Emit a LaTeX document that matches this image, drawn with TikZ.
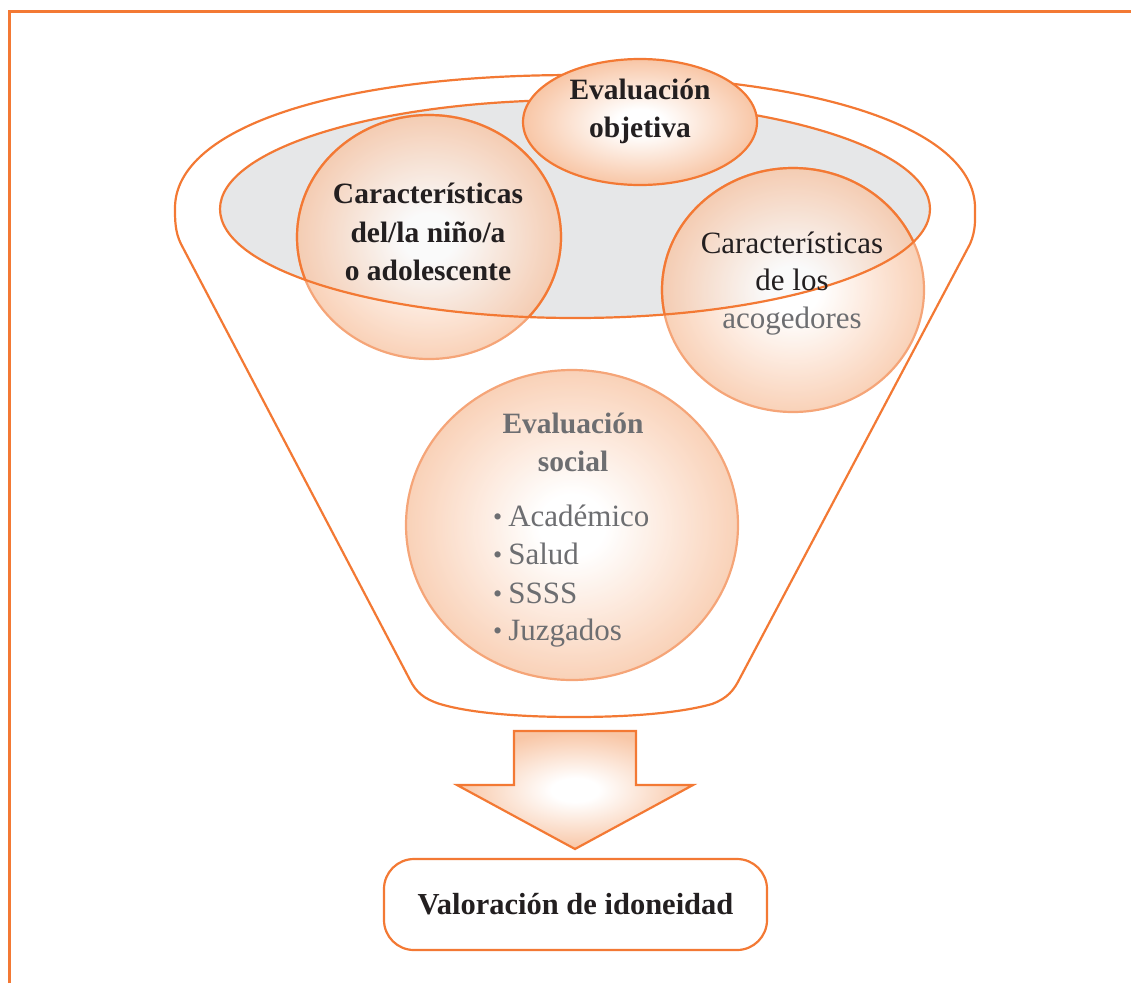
\documentclass[tikz,border=0pt]{standalone}
\usepackage{fontspec}
\setmainfont{Liberation Serif}
\definecolor{orng}{RGB}{243,121,52}
\definecolor{lorng}{RGB}{245,165,120}
\definecolor{grayfill}{RGB}{230,231,232}
\definecolor{peach}{RGB}{248,198,166}
\definecolor{darktxt}{RGB}{35,31,32}
\definecolor{graytxt}{RGB}{109,110,113}
\pgfdeclareradialshading{peachglow}{\pgfpoint{0bp}{0bp}}{color(0bp)=(white); color(5bp)=(white); color(25bp)=(peach); color(50bp)=(peach)}
\newcommand{\smallbul}{\raisebox{1pt}{\fontsize{26}{26}\selectfont\textbullet}\hspace{6pt}}
\begin{document}
\begin{tikzpicture}[x=1pt,y=-1pt,
  outline/.style={draw=orng, line width=2.2pt},
  bubble/.style={shading=peachglow, fill opacity=0.8, draw=lorng, line width=2.2pt},
  solidbubble/.style={shading=peachglow, draw=orng, line width=2.2pt},
  tb/.style={font=\fontsize{29.5}{38}\selectfont\bfseries, text=darktxt, inner sep=0pt},
  tr/.style={font=\fontsize{31}{38}\selectfont, text=darktxt, inner sep=0pt},
  resultbox/.style={draw=orng, line width=2.2pt, rounded corners=30pt, fill=white,
    minimum width=383pt, minimum height=91pt, text height=20pt, text depth=0pt,
    font=\fontsize{30.5}{38}\selectfont\bfseries, text=darktxt}
]
\useasboundingbox (0,0) rectangle (1131,983);

% frame
\draw[orng, line width=3pt] (9.5,983) -- (9.5,11.5) -- (1131,11.5);

% funnel
\draw[outline, line join=round] (175,208)
  .. controls (175,128) and (335,75) .. (575,75)
  .. controls (815,75) and (975,128) .. (975,208)
  .. controls (975,220) and (976,230) .. (970,244)
  -- (740,678)
  .. controls (734,690) and (728,698) .. (712,704)
  .. controls (680,713) and (630,717) .. (575,717)
  .. controls (520,717) and (470,713) .. (440,704)
  .. controls (424,699) and (416,692) .. (410,680)
  -- (181,244)
  .. controls (175,232) and (175,220) .. (175,208) -- cycle;

% gray ellipse
\fill[grayfill] (575,209) ellipse [x radius=355, y radius=109];

% bubbles
\path[bubble] (429,237) ellipse [x radius=132, y radius=122];
\path[bubble] (793,290) ellipse [x radius=131, y radius=122];
\path[bubble] (572,525) ellipse [x radius=166, y radius=155];

\begin{scope}
  \clip (575,209) ellipse [x radius=355, y radius=109];
  \draw[outline] (429,237) ellipse [x radius=132, y radius=122];
  \draw[outline] (793,290) ellipse [x radius=131, y radius=122];
\end{scope}

\draw[outline] (575,209) ellipse [x radius=355, y radius=109];

% top bubble
\path[solidbubble] (640,122) ellipse [x radius=117, y radius=63];

% texts
\node[tb, anchor=base] (obj1) at (640,99) {Evaluación};
\node[tb, anchor=base] (obj2) at (640,137) {objetiva};

\node[tb, anchor=base] (nin1) at (428,203) {Características};
\node[tb, anchor=base] (nin2) at (428,242) {del/la niño/a};
\node[tb, anchor=base] (nin3) at (428,280) {o adolescente};

\node[tr, anchor=base] (aco1) at (792,253) {Características};
\node[tr, anchor=base] (aco2) at (792,290) {de los};
\node[tr, anchor=base, text=graytxt] (aco3) at (792,328) {acogedores};

\node[tb, anchor=base, text=graytxt] (soc1) at (573,433) {Evaluación};
\node[tb, anchor=base, text=graytxt] (soc2) at (573,471) {social};
\node[tr, anchor=base west, text=graytxt] (it1) at (493,526) {\smallbul Académico};
\node[tr, anchor=base west, text=graytxt] (it2) at (493,564) {\smallbul Salud};
\node[tr, anchor=base west, text=graytxt] (it3) at (493,603) {\smallbul SSSS};
\node[tr, anchor=base west, text=graytxt] (it4) at (493,640) {\smallbul Juzgados};

% arrow
\path[solidbubble, line join=miter] (514,731) -- (636,731) -- (636,785) -- (693,785)
  -- (575,849) -- (457,785) -- (514,785) -- cycle;

% result box
\node[resultbox] (valor) at (575.5,904.5) {Valoración de idoneidad};
\end{tikzpicture}
\end{document}
